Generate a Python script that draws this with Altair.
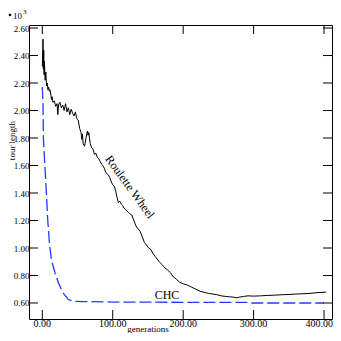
import altair as alt
import pandas as pd

# Roulette Wheel (black solid) – tour length in 10^3
rw_gen = [0, 1, 1.5, 2, 2.5, 3, 4, 5, 6, 7, 8, 9, 10, 11, 12, 13, 14, 15, 17, 19,
          21, 22, 23, 25, 27, 29, 31, 33, 35, 37, 39, 41, 43, 45, 47, 49, 51, 53, 55, 56,
          57, 58, 60, 62, 64, 65, 66, 68, 70, 72, 74, 76, 78, 80, 82, 84, 86, 88, 90, 92,
          94, 96, 98, 100, 102, 104, 106, 108, 110, 112, 114, 116, 118, 120, 122, 124, 127, 130, 133, 136,
          139, 142, 145, 148, 151, 154, 157, 160, 163, 166, 170, 174, 178, 182, 186, 190, 195, 200, 206, 212,
          218, 224, 230, 236, 242, 248, 254, 260, 266, 272, 276, 280, 286, 292, 300, 310, 320, 330, 340, 350,
          360, 370, 380, 390, 400, 403]
rw_val = [2.32, 2.52, 2.30, 2.44, 2.26, 2.36, 2.22, 2.28, 2.18, 2.20, 2.15, 2.17, 2.14, 2.15, 2.12, 2.08, 2.10, 2.06, 2.07, 2.03,
          2.05, 1.97, 2.04, 2.06, 2.02, 2.04, 2.00, 2.05, 1.99, 2.02, 1.97, 2.01, 1.98, 1.96, 1.99, 1.94, 1.93, 1.87, 1.84, 1.79,
          1.83, 1.76, 1.74, 1.80, 1.85, 1.82, 1.84, 1.76, 1.73, 1.72, 1.68, 1.69, 1.66, 1.65, 1.63, 1.61, 1.60, 1.58, 1.55, 1.54,
          1.53, 1.51, 1.48, 1.46, 1.45, 1.42, 1.37, 1.33, 1.34, 1.32, 1.31, 1.29, 1.28, 1.27, 1.26, 1.25, 1.24, 1.20, 1.16, 1.14,
          1.12, 1.08, 1.04, 1.02, 1.00, 0.99, 0.96, 0.94, 0.92, 0.90, 0.88, 0.855, 0.84, 0.82, 0.79, 0.775, 0.75, 0.74, 0.73, 0.715,
          0.70, 0.685, 0.677, 0.67, 0.665, 0.66, 0.652, 0.648, 0.645, 0.642, 0.638, 0.643, 0.648, 0.652, 0.650, 0.652, 0.655, 0.657, 0.660, 0.662,
          0.665, 0.667, 0.670, 0.675, 0.678, 0.680]

# CHC (blue dashed)
chc_gen = [0, 1, 1.5, 4, 6.3, 7.5, 10, 13, 18, 23, 30, 37, 44, 60, 100, 200, 294, 296, 400]
chc_val = [2.17, 2.05, 1.80, 1.57, 1.35, 1.22, 1.04, 0.91, 0.82, 0.745, 0.67, 0.625, 0.612, 0.61, 0.607, 0.605, 0.605, 0.600, 0.600]

x_ticks = [0, 100, 200, 300, 400]
x_tick_labels = ["0.00", "100.00", "200.00", "300.00", "400.00"]
y_ticks = [0.6, 0.8, 1.0, 1.2, 1.4, 1.6, 1.8, 2.0, 2.2, 2.4, 2.6]

label_text = ["Roulette Wheel", "CHC"]
label_gen = [124.5, 177]
label_val = [1.445, 0.656]
label_angle = [54, 0]

W, H = 303, 294
FONT = "Liberation Serif"
BLUE = "#1e3cff"

xs = alt.Scale(domain=[-18.9, 411.3], nice=False, zero=False)
ys = alt.Scale(domain=[0.4836, 2.622], nice=False, zero=False)

ax_x = alt.Axis(values=x_ticks, labels=False, title="generations",
                titleX=118.5, titleY=12, titleBaseline="alphabetic", titleAlign="center",
                titleFontSize=9)
ax_y = alt.Axis(values=y_ticks, format=".2f", title="tour length",
                titleX=-14.5, titleY=115, titleAngle=270, titleBaseline="alphabetic",
                titleAlign="center", titleFontSize=9, labelPadding=0, labelFontSize=9)

X = alt.X("gen:Q", scale=xs, axis=ax_x)
Y = alt.Y("val:Q", scale=ys, axis=ax_y)

rw = pd.DataFrame({"gen": rw_gen, "val": rw_val})
chc = pd.DataFrame({"gen": chc_gen, "val": chc_val})
xt = pd.DataFrame({"gen": x_ticks, "t": x_tick_labels})
yt = pd.DataFrame({"val": y_ticks})
lab = pd.DataFrame({"gen": label_gen, "val": label_val, "t": label_text, "a": label_angle})

rw_line = alt.Chart(rw).mark_line(color="black", strokeWidth=1).encode(x=X, y=Y)
chc_line = alt.Chart(chc).mark_line(color=BLUE, strokeWidth=1.3, strokeDash=[12, 4]).encode(x=X, y=Y)
yt_left = alt.Chart(yt).mark_rule(color="black", strokeWidth=1).encode(
    y=Y, x=alt.value(0), x2=alt.value(9))
yt_right = alt.Chart(yt).mark_rule(color="black", strokeWidth=1).encode(
    y=Y, x=alt.value(W - 9), x2=alt.value(W))
xt_bot = alt.Chart(xt).mark_rule(color="black", strokeWidth=1).encode(
    x=X, y=alt.value(H - 9), y2=alt.value(H))
xt_top = alt.Chart(xt).mark_rule(color="black", strokeWidth=1).encode(
    x=X, y=alt.value(0), y2=alt.value(9))

# x tick labels (the last one is kept inside the page)
xl_mid = alt.Chart(xt).transform_filter("datum.gen < 400").mark_text(
    font=FONT, fontSize=10, color="black", align="center", baseline="top").encode(
    x=X, y=alt.value(H), text="t:N")
xl_end = alt.Chart(xt).transform_filter("datum.gen >= 400").mark_text(
    font=FONT, fontSize=10, color="black", align="right", baseline="top", dx=9).encode(
    x=X, y=alt.value(H), text="t:N")

labels = alt.Chart(lab).mark_text(font=FONT, fontSize=12, color="black",
                                  align="center", baseline="middle").encode(
    x=X, y=Y, text="t:N", angle=alt.Angle("a:Q", scale=None),
)

bullet = alt.Chart(pd.DataFrame({"k": [1]})).mark_circle(color="black", opacity=1, size=7).encode(
    x=alt.value(-19), y=alt.value(-10))
ten = alt.Chart(pd.DataFrame({"t": ["10"]})).mark_text(
    font=FONT, fontSize=9, color="black", align="left", baseline="alphabetic").encode(
    text="t:N", x=alt.value(-16), y=alt.value(-6))
exp = alt.Chart(pd.DataFrame({"t": ["3"]})).mark_text(
    font=FONT, fontSize=7, color="black", align="left", baseline="alphabetic").encode(
    text="t:N", x=alt.value(-6), y=alt.value(-11))

chart = alt.layer(rw_line, chc_line, yt_left, yt_right, xt_bot, xt_top, xl_mid, xl_end,
                  labels, bullet, ten, exp).properties(
    width=W, height=H,
    padding={"left": 21, "top": 17, "right": 1, "bottom": 14},
    autosize=alt.AutoSizeParams(type="none"),
).configure_view(stroke="black", strokeWidth=1).configure_axis(
    domain=False, grid=False, ticks=False,
    labelFont=FONT, labelFontSize=10, labelColor="black",
    titleFont=FONT, titleFontSize=12, titleFontWeight="normal", titleColor="black",
)

chart.save("out.html", embed_options={"renderer": "svg", "actions": False})
